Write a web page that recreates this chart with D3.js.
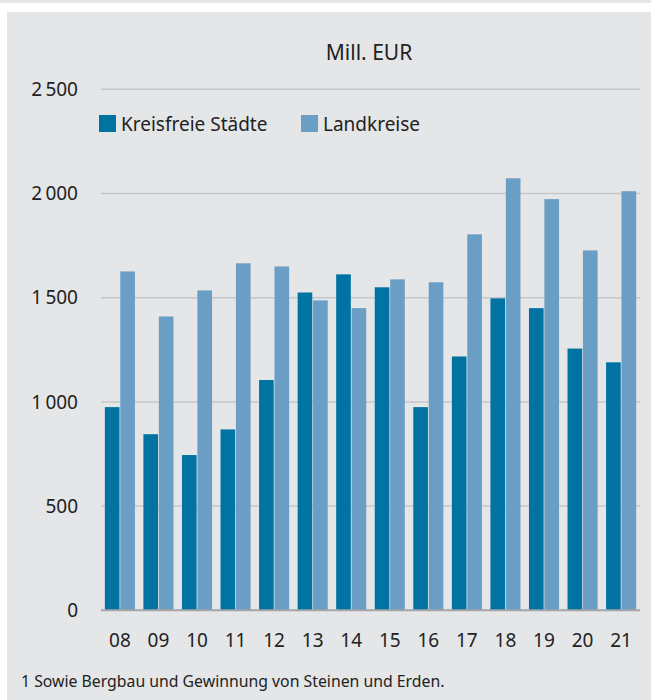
<!DOCTYPE html>
<html>
<head>
<meta charset="utf-8">
<script src="https://cdn.jsdelivr.net/npm/d3@7"></script>
<style>
body { margin: 0; background: #fff; }
svg text { font-family: "Noto Sans", "Open Sans", sans-serif; fill: #222; }
</style>
</head>
<body>
<svg id="chart" width="651" height="700"></svg>
<script>
var years = ["08", "09", "10", "11", "12", "13", "14", "15", "16", "17", "18", "19", "20", "21"];
var kreisfreie = [975, 845, 745, 868, 1105, 1525, 1612, 1550, 975, 1218, 1497, 1450, 1256, 1190];
var landkreise = [1626, 1410, 1535, 1665, 1650, 1487, 1450, 1588, 1574, 1804, 2073, 1973, 1727, 2011];
var seriesNames = ["Kreisfreie Städte", "Landkreise"];
var yTicks = [0, 500, 1000, 1500, 2000, 2500];

var colors = ["#0073a3", "#6a9ec4"];

var svg = d3.select("#chart");

// grey strip at top + panel
svg.append("rect").attr("x", 0).attr("y", 0).attr("width", 651).attr("height", 3).attr("fill", "#e5e6e8");
svg.append("rect").attr("x", 7).attr("y", 12).attr("width", 644).attr("height", 688).attr("fill", "#e5e6e8");

var x0 = d3.scaleBand().domain(years).range([101, 640]).paddingInner(0.22).paddingOuter(0.1);
var x1 = d3.scaleBand().domain(seriesNames).range([0, x0.bandwidth()]).paddingInner(0.05);
var y = d3.scaleLinear().domain([0, 2500]).range([610.3, 89.3]);

var data = years.map(function(yr, i) {
    return {year: yr, values: [kreisfreie[i], landkreise[i]]};
});

// gridlines
svg.append("g")
    .selectAll("line")
    .data(yTicks.filter(function(d) { return d > 0; }))
  .enter().append("line")
    .attr("x1", 101)
    .attr("x2", 640)
    .attr("y1", function(d) { return y(d); })
    .attr("y2", function(d) { return y(d); })
    .attr("stroke", "#c6c7ca")
    .attr("stroke-width", 1.5);

// y labels
svg.append("g")
    .selectAll("text")
    .data(yTicks)
  .enter().append("text")
    .attr("x", 78)
    .attr("y", function(d) { return y(d); })
    .attr("dy", "0.35em")
    .attr("text-anchor", "end")
    .style("font-size", "19px")
    .text(function(d) { return d3.format(",")(d).replace(",", "\u2009"); });

// bars
var groups = svg.append("g")
    .selectAll("g")
    .data(data)
  .enter().append("g")
    .attr("transform", function(d) { return "translate(" + x0(d.year) + ",0)"; });

groups.selectAll("rect")
    .data(function(d) { return d.values.map(function(v, i) { return {name: seriesNames[i], value: v, i: i}; }); })
  .enter().append("rect")
    .attr("x", function(d) { return x1(d.name); })
    .attr("width", x1.bandwidth())
    .attr("y", function(d) { return y(d.value); })
    .attr("height", function(d) { return y(0) - y(d.value); })
    .attr("fill", function(d) { return colors[d.i]; });

// baseline
svg.append("line")
    .attr("x1", 101).attr("x2", 640)
    .attr("y1", y(0)).attr("y2", y(0))
    .attr("stroke", "#a4a5a8")
    .attr("stroke-width", 2);

// x labels
svg.append("g")
    .selectAll("text")
    .data(years)
  .enter().append("text")
    .attr("x", function(d) { return x0(d) + x0.bandwidth() / 2; })
    .attr("y", 647)
    .attr("text-anchor", "middle")
    .style("font-size", "19px")
    .text(function(d) { return d; });

// title
svg.append("text")
    .attr("x", 369)
    .attr("y", 60)
    .attr("text-anchor", "middle")
    .style("font-size", "21px")
    .text("Mill. EUR");

// legend
var legendX = [99, 301];
var legend = svg.append("g")
    .selectAll("g")
    .data(seriesNames)
  .enter().append("g")
    .attr("transform", function(d, i) { return "translate(" + legendX[i] + ",115)"; });

legend.append("rect")
    .attr("width", 17)
    .attr("height", 17)
    .attr("fill", function(d, i) { return colors[i]; });

legend.append("text")
    .attr("x", 22)
    .attr("y", 16)
    .style("font-size", "19px")
    .text(function(d) { return d; });

// footnote
svg.append("text")
    .attr("x", 21)
    .attr("y", 687)
    .style("font-size", "15.8px")
    .text("1 Sowie Bergbau und Gewinnung von Steinen und Erden.");
</script>
</body>
</html>
